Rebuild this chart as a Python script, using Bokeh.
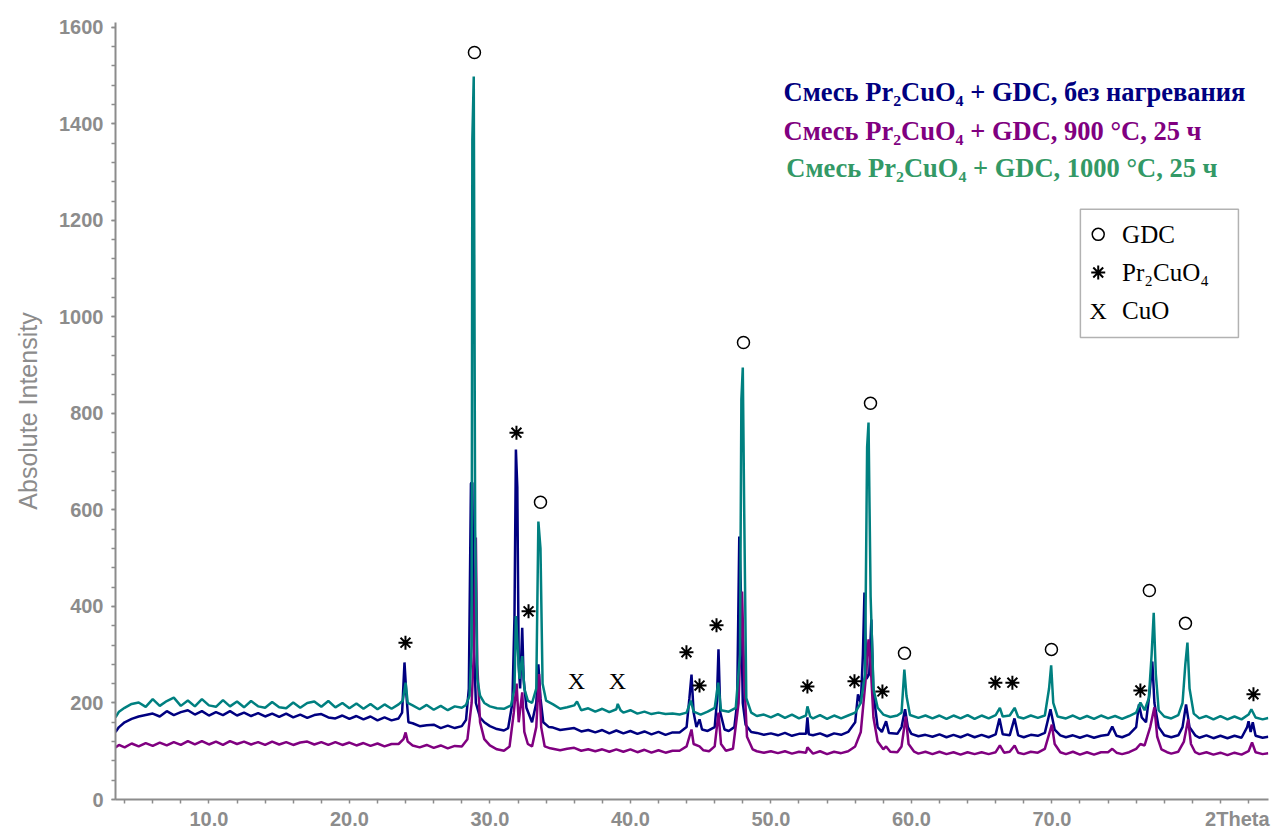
from bokeh.plotting import figure
from bokeh.models import FixedTicker, Range1d, CustomJSTickFormatter, BoxAnnotation
from bokeh.core.properties import value
from bokeh.embed import file_html
from bokeh.resources import INLINE

# ---------------- data ----------------
# Mixture Pr2CuO4 + GDC, no heating (navy)
navy_pts = [
    (3.35,140),(3.6,150),(4,160),(4.5,167),(5,172),(5.5,175),(6,178),(6.5,172),(7,183),(7.5,175),
    (8,181),(8.5,185),(9,176),(9.5,183),(10,174),(10.5,181),(11,175),(11.5,183),(12,174),(12.5,180),
    (13,173),(13.5,179),(14,172),(14.5,178),(15,171),(15.5,178),(16,170),(16.5,176),(17,169),(17.5,175),
    (18,177),(18.5,170),(19,168),(19.5,174),(20,167),(20.5,173),(21,166),(21.5,172),(22,164),(22.5,170),
    (23,164),(23.5,168),(23.75,180),(23.92,284),(24.05,220),(24.2,160),(24.5,158),(25,152),(25.5,154),
    (26,155),(26.5,148),(27,153),(27.5,148),(28,152),(28.3,165),(28.5,230),(28.65,655),(28.75,657),
    (28.85,330),(29.0,200),(29.3,170),(29.6,160),(30,152),(30.5,146),(31,143),(31.3,148),(31.6,200),
    (31.75,380),(31.85,725),(31.95,648),(32.05,280),(32.15,230),(32.3,356),(32.4,250),(32.6,190),
    (33,160),(33.3,200),(33.45,280),(33.6,210),(33.8,160),(34.2,150),(34.5,149),(35,144),(35.5,146),
    (36,148),(36.5,141),(37,144),(37.5,139),(38,144),(38.5,137),(39,143),(39.5,137),(40,142),(40.5,136),
    (41,141),(41.5,135),(42,140),(42.5,134),(43,139),(43.5,139),(44,150),(44.2,210),(44.35,259),
    (44.5,180),(44.7,150),(44.92,166),(45.1,145),(45.5,142),(46,150),(46.15,200),(46.27,311),(46.4,180),
    (46.7,145),(47,142),(47.4,150),(47.6,200),(47.75,545),(47.85,450),(48.0,200),(48.2,155),(48.6,140),
    (49,138),(49.5,134),(50,137),(50.5,133),(51,138),(51.5,132),(52,136),(52.5,136),(52.6,170),
    (52.7,135),(53,133),(53.5,137),(54,131),(54.5,137),(55,134),(55.5,140),(56,160),(56.2,218),
    (56.4,200),(56.55,300),(56.66,429),(56.8,250),(57.0,260),(57.15,373),(57.3,220),(57.6,150),
    (57.9,140),(58.2,162),(58.4,138),(59,136),(59.3,150),(59.55,187),(59.75,150),(60,136),(60.5,131),
    (61,134),(61.5,130),(62,135),(62.5,129),(63,134),(63.5,129),(64,135),(64.5,129),(65,134),(65.5,129),
    (66,135),(66.27,168),(66.5,135),(67,133),(67.34,168),(67.6,133),(68,129),(68.5,134),(69,132),
    (69.5,138),(69.9,187),(70.2,145),(70.6,133),(71,129),(71.5,133),(72,128),(72.5,133),(73,128),
    (73.5,132),(74,134),(74.3,151),(74.6,132),(75,129),(75.5,135),(76,150),(76.2,197),(76.4,170),
    (76.7,160),(76.95,220),(77.15,286),(77.3,200),(77.6,150),(78,133),(78.5,129),(79,133),(79.3,150),
    (79.55,197),(79.8,150),(80.2,133),(80.5,128),(81,133),(81.5,127),(82,132),(82.5,127),(83,132),
    (83.5,128),(83.9,150),(84.0,162),(84.15,140),(84.3,160),(84.5,132),(85,128),(85.4,130),
]

# Mixture Pr2CuO4 + GDC, 900 C, 25 h (purple)
purple_pts = [
    (3.35,108),(3.6,113),(4,108),(4.5,116),(5,110),(5.5,117),(6,111),(6.5,118),(7,112),(7.5,119),
    (8,113),(8.5,121),(9,114),(9.5,121),(10,114),(10.5,120),(11,113),(11.5,121),(12,115),(12.5,120),
    (13,114),(13.5,119),(14,113),(14.5,120),(15,114),(15.5,119),(16,113),(16.5,118),(17,120),(17.5,114),
    (18,119),(18.5,113),(19,119),(19.5,113),(20,118),(20.5,112),(21,117),(21.5,111),(22,116),(22.5,110),
    (23,115),(23.5,115),(23.85,125),(24.0,139),(24.15,120),(24.5,112),(25,108),(25.5,113),(26,107),
    (26.5,112),(27,106),(27.5,111),(28,110),(28.4,125),(28.7,200),(28.85,300),(29.0,543),(29.1,280),
    (29.3,160),(29.6,125),(30,112),(30.5,104),(31,101),(31.4,110),(31.7,180),(31.9,240),(32.05,160),
    (32.3,222),(32.45,140),(32.7,115),(33,110),(33.3,150),(33.5,260),(33.65,150),(33.9,110),(34.3,106),
    (35,102),(35.5,105),(36,107),(36.5,101),(37,104),(37.5,100),(38,104),(38.5,99),(39,104),(39.5,99),
    (40,104),(40.5,98),(41,103),(41.5,97),(42,102),(42.5,97),(43,101),(43.5,101),(44,110),(44.35,145),
    (44.5,115),(44.92,110),(45.2,102),(45.6,100),(46,110),(46.27,180),(46.45,115),(46.8,101),(47.3,105),
    (47.7,200),(47.95,431),(48.1,250),(48.3,130),(48.7,104),(49,100),(49.5,97),(50,100),(50.5,96),
    (51,100),(51.5,95),(52,99),(52.5,97),(52.6,108),(53,95),(53.5,100),(54,94),(54.5,99),(55,96),
    (55.5,100),(56,110),(56.4,140),(56.75,250),(56.95,332),(57.1,280),(57.3,170),(57.6,120),(58,104),
    (58.2,110),(58.5,99),(59,98),(59.3,110),(59.6,172),(59.8,115),(60.2,99),(60.5,95),(61,99),(61.5,94),
    (62,99),(62.5,94),(63,98),(63.5,93),(64,98),(64.5,94),(65,98),(65.5,94),(66,98),(66.3,112),(66.6,97),
    (67,99),(67.35,112),(67.6,97),(68,94),(68.5,99),(69,97),(69.5,105),(70.0,155),(70.2,115),(70.6,98),
    (71,94),(71.5,99),(72,93),(72.5,98),(73,93),(73.5,98),(74,98),(74.3,105),(74.6,97),(75,94),(75.5,98),
    (76,105),(76.3,115),(76.6,112),(77.0,150),(77.3,191),(77.5,130),(77.8,104),(78.2,98),(78.5,95),
    (79,99),(79.4,120),(79.7,166),(79.9,115),(80.2,98),(80.5,94),(81,98),(81.5,93),(82,97),(82.5,92),
    (83,97),(83.5,93),(84,100),(84.25,118),(84.5,98),(85,94),(85.4,96),
]

# Mixture Pr2CuO4 + GDC, 1000 C, 25 h (teal)
teal_pts = [
    (3.35,170),(3.6,182),(4,190),(4.5,198),(5,201),(5.5,192),(6,208),(6.5,194),(7,204),(7.5,211),
    (8,194),(8.5,205),(9,193),(9.5,208),(10,195),(10.5,192),(11,206),(11.5,193),(12,203),(12.5,191),
    (13,204),(13.5,193),(14,190),(14.5,202),(15,191),(15.5,189),(16,201),(16.5,190),(17,200),(17.5,203),
    (18,192),(18.5,204),(19,191),(19.5,200),(20,189),(20.5,199),(21,188),(21.5,198),(22,187),(22.5,197),
    (23,188),(23.5,197),(23.8,205),(24.0,242),(24.15,200),(24.5,195),(25,187),(25.5,196),(26,186),
    (26.5,194),(27,185),(27.5,193),(28,190),(28.3,196),(28.55,215),(28.7,320),(28.75,1368),(28.85,1498),
    (28.95,560),(29.1,250),(29.3,215),(29.6,200),(30,193),(30.5,189),(31,188),(31.5,195),(31.75,230),
    (31.85,380),(31.95,330),(32.1,250),(32.3,297),(32.45,230),(32.7,205),(33,200),(33.3,230),
    (33.45,576),(33.6,520),(33.75,240),(34,205),(34.5,197),(35,188),(35.5,191),(36,195),(36.2,203),
    (36.5,185),(37,189),(37.5,182),(38,188),(38.5,181),(39,187),(39.1,198),(39.3,185),(39.5,180),
    (40,185),(40.5,178),(41,182),(41.5,177),(42,180),(42.5,177),(43,178),(43.5,176),(44,180),(44.3,205),
    (44.5,182),(45,176),(45.5,182),(46.0,190),(46.25,242),(46.45,185),(47,182),(47.5,190),(47.8,300),
    (47.9,829),(48.0,895),(48.1,600),(48.25,210),(48.6,180),(49,173),(49.5,176),(50,170),(50.5,177),
    (51,169),(51.5,176),(52,168),(52.5,174),(52.6,193),(52.8,172),(53,168),(53.5,175),(54,167),
    (54.5,174),(55,168),(55.5,174),(56,180),(56.4,200),(56.7,260),(56.85,730),(56.95,781),(57.1,420),
    (57.3,230),(57.6,190),(58,176),(58.5,171),(59,174),(59.3,180),(59.5,269),(59.65,215),(59.9,175),
    (60.5,169),(61,174),(61.5,168),(62,174),(62.5,167),(63,174),(63.5,168),(64,175),(64.5,167),(65,174),
    (65.5,168),(66,175),(66.3,190),(66.5,172),(67,174),(67.35,190),(67.6,171),(68,168),(68.5,174),
    (69,169),(69.5,174),(69.8,230),(69.95,278),(70.1,200),(70.4,172),(71,168),(71.5,174),(72,167),
    (72.5,173),(73,167),(73.5,174),(74,168),(74.5,173),(75,167),(75.5,173),(76,180),(76.3,201),
    (76.6,185),(76.9,210),(77.1,300),(77.25,387),(77.4,260),(77.6,185),(78,172),(78.5,168),(79,175),
    (79.3,200),(79.5,280),(79.65,325),(79.8,230),(80.1,178),(80.5,168),(81,173),(81.5,166),(82,173),
    (82.5,166),(83,172),(83.5,166),(84,176),(84.2,187),(84.5,170),(85,166),(85.4,169),
]

# phase marks above the peaks
gdc_mark_x = [28.9, 33.6, 48.05, 57.09, 59.51, 69.97, 76.94, 79.51]
gdc_mark_y = [1548, 616, 947, 821, 303, 311, 433, 365]
pr_mark_x = [23.99, 31.89, 32.75, 43.99, 44.92, 46.13, 52.6, 55.95, 57.94, 65.98, 67.19, 76.3, 84.35]
pr_mark_y = [325, 760, 390, 305, 236, 361, 234, 245, 224, 242, 242, 226, 218]
cuo_mark_x = [36.15, 39.08]
cuo_mark_y = [245, 245]

series_titles = [
    "Смесь Pr\u2082CuO\u2084 + GDC, без нагревания",
    "Смесь Pr\u2082CuO\u2084 + GDC, 900 \u00b0C, 25 ч",
    "Смесь Pr\u2082CuO\u2084 + GDC, 1000 \u00b0C, 25 ч",
]
phase_names = ["GDC", "Pr\u2082CuO\u2084", "CuO"]

y_major = [0, 200, 400, 600, 800, 1000, 1200, 1400, 1600]
x_major = [10, 20, 30, 40, 50, 60, 70]

# ---------------- styles ----------------
NAVY = "#000080"
PURPLE = "#800080"
TEAL = "#008080"
GREEN_TXT = "#339966"
AXIS_GRAY = "#8c8c8c"

X0, X1 = 3.35, 85.42
p = figure(width=1271, height=832, output_backend="svg", toolbar_location=None,
           x_range=Range1d(X0, X1), y_range=Range1d(0, 1610),
           min_border_left=115, min_border_right=3, min_border_top=22, min_border_bottom=32)
p.outline_line_color = None
p.xgrid.visible = False
p.ygrid.visible = False
p.background_fill_color = "white"
p.border_fill_color = "white"

def split(pts):
    return [a for a, _ in pts], [b for _, b in pts]

nx, ny = split(navy_pts)
px_, py_ = split(purple_pts)
tx, ty = split(teal_pts)
p.line(nx, ny, line_color=NAVY, line_width=2.5)
p.line(px_, py_, line_color=PURPLE, line_width=2.5)
p.line(tx, ty, line_color=TEAL, line_width=2.5)

# phase marks
p.scatter(gdc_mark_x, gdc_mark_y, marker="circle", size=12, fill_color=None,
          line_color="black", line_width=1.5)
p.scatter(pr_mark_x, pr_mark_y, marker="asterisk", size=14, line_color="black", line_width=2)
p.text(cuo_mark_x, cuo_mark_y, text=["X"] * len(cuo_mark_x), text_font=value("Liberation Serif"),
       text_font_size="24px", text_align="center", text_baseline="middle", text_color="black")

# series title texts
title_colors = [NAVY, PURPLE, GREEN_TXT]
title_x = [50.9, 50.9, 51.1]
title_y = [1465, 1386, 1308]
p.text(title_x, title_y, text=series_titles, text_color=title_colors,
       text_font=value("Liberation Serif"), text_font_style="bold",
       text_font_size="26.5px", text_align="left", text_baseline="middle")

# phase legend box
p.add_layout(BoxAnnotation(left=72.03, right=83.28, bottom=957.5, top=1222.8,
                           fill_color="white", fill_alpha=1.0, line_color="black",
                           line_width=1.5, level="underlay"))
leg_y = [1171, 1092, 1013]
p.scatter([73.3], [leg_y[0]], marker="circle", size=12, fill_color=None,
          line_color="black", line_width=1.5)
p.scatter([73.3], [leg_y[1]], marker="asterisk", size=14, line_color="black", line_width=2)
p.text([73.3], [leg_y[2]], text=["X"], text_font=value("Liberation Serif"), text_font_size="24px",
       text_align="center", text_baseline="middle")
p.text([75.0] * 3, leg_y, text=phase_names, text_font=value("Liberation Serif"),
       text_font_size="25px", text_align="left", text_baseline="middle")

# axes
xa = p.xaxis[0]
xa.ticker = FixedTicker(ticks=x_major + [83.2], minor_ticks=list(range(4, 86, 2)))
xa.formatter = CustomJSTickFormatter(code="return tick > 80 ? '2Theta' : tick.toFixed(1);")
xa.major_tick_out = 0
xa.major_tick_in = 0
xa.minor_tick_out = 4
xa.minor_tick_in = 0
xa.axis_line_color = AXIS_GRAY
xa.axis_line_width = 2
xa.minor_tick_line_color = AXIS_GRAY
xa.minor_tick_line_width = 1.5
xa.major_label_text_color = AXIS_GRAY
xa.major_label_text_font = "Liberation Sans"
xa.major_label_text_font_style = "bold"
xa.major_label_text_font_size = "20px"
xa.major_label_standoff = 4

ya = p.yaxis[0]
ya.ticker = FixedTicker(ticks=y_major, minor_ticks=list(range(0, 1601, 40)))
ya.major_tick_out = 4
ya.major_tick_in = 0
ya.minor_tick_out = 4
ya.minor_tick_in = 0
ya.axis_line_color = AXIS_GRAY
ya.axis_line_width = 2
ya.major_tick_line_color = AXIS_GRAY
ya.major_tick_line_width = 1.5
ya.minor_tick_line_color = AXIS_GRAY
ya.minor_tick_line_width = 1.5
ya.major_label_text_color = AXIS_GRAY
ya.major_label_text_font = "Liberation Sans"
ya.major_label_text_font_style = "bold"
ya.major_label_text_font_size = "20px"
ya.major_label_standoff = 8
ya.axis_label = "Absolute Intensity"
ya.axis_label_text_color = AXIS_GRAY
ya.axis_label_text_font = "Liberation Sans"
ya.axis_label_text_font_style = "normal"
ya.axis_label_text_font_size = "25px"
ya.axis_label_standoff = 14

open("out.html", "w").write(file_html(p, INLINE))
